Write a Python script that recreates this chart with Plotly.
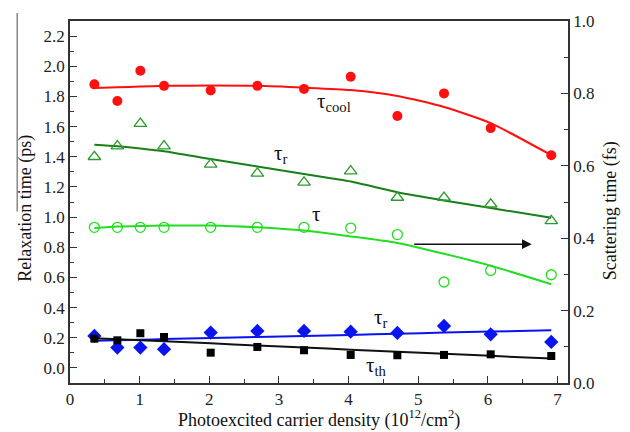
import plotly.graph_objects as go

# ---- data ----
density = [0.35, 0.68, 1.01, 1.35, 2.02, 2.69, 3.36, 4.03, 4.70, 5.37, 6.04, 6.91]

tau_cool = [1.88, 1.77, 1.97, 1.87, 1.84, 1.87, 1.85, 1.93, 1.67, 1.82, 1.59, 1.41]
tau_cool_fit = [1.855, 1.86, 1.865, 1.87, 1.872, 1.87, 1.858, 1.842, 1.803, 1.73, 1.623, 1.41]

tau_r_up = [1.40, 1.47, 1.62, 1.47, 1.35, 1.29, 1.23, 1.305, 1.13, 1.13, 1.085, 0.975]
tau_r_up_fit = [1.48, 1.47, 1.455, 1.437, 1.385, 1.335, 1.285, 1.236, 1.165, 1.11, 1.06, 0.995]

tau_scat = [0.43, 0.43, 0.43, 0.43, 0.43, 0.43, 0.43, 0.428, 0.41, 0.279, 0.311, 0.299]
tau_scat_fit = [0.428, 0.432, 0.434, 0.435, 0.435, 0.43, 0.421, 0.405, 0.387, 0.357, 0.324, 0.273]

tau_r_low = [0.212, 0.135, 0.135, 0.124, 0.234, 0.245, 0.245, 0.24, 0.232, 0.278, 0.223, 0.172]
tau_r_low_fit = [0.18, 0.184, 0.187, 0.191, 0.198, 0.205, 0.212, 0.219, 0.226, 0.234, 0.241, 0.25]

tau_th = [0.194, 0.183, 0.23, 0.205, 0.101, 0.139, 0.117, 0.086, 0.084, 0.086, 0.09, 0.079]
tau_th_fit = [0.197, 0.19, 0.183, 0.176, 0.163, 0.149, 0.135, 0.121, 0.107, 0.094, 0.08, 0.062]

x_ticks = [0, 1, 2, 3, 4, 5, 6, 7]

FONT = "Times New Roman"
RED = "#ff1010"
DGREEN = "#1a7f1a"
TGREEN = "#2e9a2e"
LGREEN = "#22dd22"
BLUE = "#0a14f0"

fig = go.Figure()

def add(y, fit, color, symbol, size, line_color=None, axis="y", open_=False):
    lc = line_color or color
    fig.add_trace(go.Scatter(x=density, y=fit, mode="lines", yaxis=axis,
                             line=dict(color=lc, width=2, shape="spline", smoothing=0.6),
                             showlegend=False, hoverinfo="skip"))
    mk = dict(symbol=symbol, size=size, color=color)
    if open_:
        mk = dict(symbol=symbol + "-open", size=size, color=color, line=dict(width=1.3, color=color))
    fig.add_trace(go.Scatter(x=density, y=y, mode="markers", yaxis=axis,
                             marker=mk, showlegend=False))

add(tau_cool, tau_cool_fit, RED, "circle", 10)
add(tau_r_up, tau_r_up_fit, TGREEN, "triangle-up", 11, line_color=DGREEN, open_=True)
add(tau_scat, tau_scat_fit, LGREEN, "circle", 10, axis="y2", open_=True)
add(tau_r_low, tau_r_low_fit, BLUE, "diamond", 11)
add(tau_th, tau_th_fit, "#000000", "square", 8, line_color="#111111")

ann_font = dict(family=FONT, size=21, color="#111111")
labels = [
    (3.52, 1.76, "τ<sub>cool</sub>"),
    (2.90, 1.42, "τ<sub>r</sub>"),
    (3.45, 1.02, "τ"),
    (4.33, 0.33, "τ<sub>r</sub>"),
    (4.22, 0.01, "τ<sub>th</sub>"),
]
for lx, ly, txt in labels:
    fig.add_annotation(x=lx, y=ly, xref="x", yref="y", text=txt, showarrow=False,
                       xanchor="left", yanchor="middle", font=ann_font)

fig.add_annotation(x=6.63, y=0.82, ax=4.92, ay=0.82, xref="x", yref="y",
                   axref="x", ayref="y", text="", showarrow=True,
                   arrowhead=2, arrowsize=1.3, arrowwidth=1.5, arrowcolor="#111111")

title_font = dict(family=FONT, size=18, color="#111111")
fig.add_annotation(x=0.5, y=-0.099, xref="paper", yref="paper", showarrow=False,
                   xanchor="center", yanchor="middle", font=title_font,
                   text="Photoexcited carrier density (10<sup>12</sup>/cm<sup>2</sup>)")
fig.add_annotation(x=-0.09, y=0.482, xref="paper", yref="paper", showarrow=False,
                   xanchor="center", yanchor="middle", font=title_font, textangle=-90,
                   text="Relaxation time (ps)")
fig.add_annotation(x=1.084, y=0.477, xref="paper", yref="paper", showarrow=False,
                   xanchor="center", yanchor="middle", font=title_font, textangle=-90,
                   text="Scattering time (fs)")

fig.add_shape(type="line", xref="paper", yref="paper", x0=-0.106, x1=-0.106,
              y0=1.022, y1=0.474, line=dict(color="#888888", width=1.5))

axis_common = dict(showline=True, linecolor="#333333", linewidth=1.5,
                   ticks="inside", tickcolor="#333333", ticklen=7, tickwidth=1.3,
                   showgrid=False, zeroline=False,
                   tickfont=dict(family=FONT, size=17, color="#222222"))

fig.update_layout(
    width=630, height=432,
    margin=dict(l=70, r=62, t=18, b=49),
    paper_bgcolor="white", plot_bgcolor="white",
    font=dict(family=FONT),
    xaxis=dict(range=[0, 7.15], tickvals=x_ticks, mirror=True,
               minor=dict(ticks="inside", dtick=0.5, ticklen=4, tickcolor="#333333"),
               **axis_common),
    yaxis=dict(range=[-0.1, 2.3], tick0=0, dtick=0.2, tickformat=".1f",
               minor=dict(ticks="inside", dtick=0.1, ticklen=4, tickcolor="#333333"),
               **axis_common),
    yaxis2=dict(range=[0, 1], dtick=0.2, tickformat=".1f", overlaying="y", side="right",
                minor=dict(ticks="inside", dtick=0.1, ticklen=4, tickcolor="#333333"),
                **axis_common),
)

fig.write_html("out.html", config={"displayModeBar": False},
               post_script="document.body.style.margin='0';document.body.style.padding='0';")
